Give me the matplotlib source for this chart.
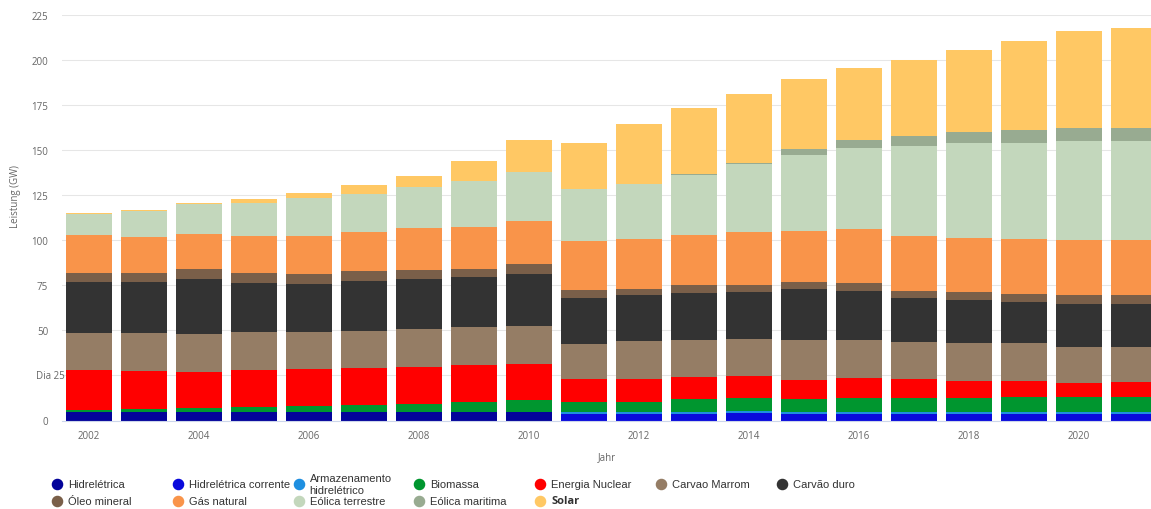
import numpy as np
import matplotlib.pyplot as plt
from matplotlib.lines import Line2D

plt.rcParams['font.family'] = ['Open Sans', 'DejaVu Sans']

anos = list(range(2002, 2022))

# GW (2002 ... 2021)
hidreletrica = [4.6, 4.6, 4.8, 4.8, 4.8, 4.8, 4.8, 4.8, 4.8,
                0, 0, 0, 0, 0, 0, 0, 0, 0, 0, 0]
hidreletrica_corrente = [0, 0, 0, 0, 0, 0, 0, 0, 0,
                         3.6, 3.6, 3.6, 3.9, 3.6, 3.6, 3.7, 3.5, 3.5, 3.5, 3.5]
armazenamento = [0, 0, 0, 0, 0, 0, 0, 0, 0,
                 0.9, 1.3, 1.3, 1.4, 1.3, 1.3, 1.2, 1.0, 1.0, 1.0, 1.0]
biomassa = [1.4, 1.8, 2.0, 2.9, 3.3, 3.8, 4.4, 5.7, 6.4, 6.0,
            5.6, 7.0, 7.0, 7.0, 7.6, 7.6, 8.0, 8.4, 8.4, 8.4]
nuclear = [22.1, 21.1, 20.1, 20.4, 20.5, 20.6, 20.3, 20.5, 20.4, 12.6,
           12.6, 12.1, 12.2, 10.8, 10.9, 10.6, 9.6, 9.2, 7.9, 8.3]
carvao_marrom = [20.3, 20.9, 21.0, 20.9, 20.4, 20.5, 21.3, 20.8, 21.1, 19.4,
                 20.9, 20.9, 20.8, 22.0, 21.3, 20.3, 21.0, 21.0, 20.2, 19.8]
carvao_duro = [28.4, 28.4, 30.7, 27.4, 26.8, 27.6, 27.6, 27.6, 28.5, 25.6,
               25.4, 25.9, 25.9, 28.4, 27.4, 24.5, 23.5, 22.6, 23.7, 23.7]
oleo_mineral = [5.3, 5.3, 5.6, 5.4, 5.4, 5.8, 5.2, 4.8, 5.9, 4.4,
                3.7, 4.5, 4.1, 4.0, 4.3, 4.2, 4.6, 4.4, 4.7, 4.7]
gas_natural = [20.6, 19.5, 19.4, 20.5, 21.1, 21.4, 23.3, 23.3, 23.7, 27.2,
               27.6, 27.9, 29.2, 28.3, 29.6, 30.0, 30.2, 30.7, 30.9, 30.9]
eolica_terrestre = [12.0, 14.6, 16.5, 18.5, 21.1, 21.3, 22.6, 25.2, 27.1, 28.7,
                    30.4, 33.2, 37.6, 41.7, 45.4, 50.0, 52.6, 53.2, 54.6, 54.6]
eolica_maritima = [0, 0, 0, 0, 0, 0, 0, 0, 0.1, 0.2,
                   0.3, 0.5, 1.0, 3.3, 4.0, 5.6, 6.1, 7.0, 7.6, 7.6]
solar = [0.2, 0.4, 0.7, 2.3, 3.0, 5.0, 6.0, 11.1, 17.8, 25.4,
         33.3, 36.5, 37.9, 39.3, 40.4, 42.2, 45.3, 49.4, 53.7, 55.2]

series = [
    ('Hidrelétrica', hidreletrica, '#03039a'),
    ('Hidrelétrica corrente', hidreletrica_corrente, '#0a0adc'),
    ('Armazenamento\nhidrelétrico', armazenamento, '#1e8fe0'),
    ('Biomassa', biomassa, '#00962f'),
    ('Energia Nuclear', nuclear, '#ff0000'),
    ('Carvao Marrom', carvao_marrom, '#957d65'),
    ('Carvão duro', carvao_duro, '#333333'),
    ('Óleo mineral', oleo_mineral, '#7a5f49'),
    ('Gás natural', gas_natural, '#f9944a'),
    ('Eólica terrestre', eolica_terrestre, '#c3d7bc'),
    ('Eólica maritima', eolica_maritima, '#98ab91'),
    ('Solar', solar, '#ffc864'),
]

W, H = 1151, 510
fig = plt.figure(figsize=(W / 100, H / 100), dpi=100)
ax = fig.add_axes([62 / W, 88.5 / H, 1089 / W, 405.5 / H])

base = np.zeros(len(anos))
for nome, valores, cor in series:
    ax.bar(anos, valores, width=0.836, bottom=base, color=cor, linewidth=0, zorder=2)
    base += np.array(valores)

ax.set_xlim(2001.51, 2021.31)
ax.set_ylim(0, 225)
yt = list(range(0, 226, 25))
ax.set_yticks(yt)
ax.set_yticklabels(['' if v == 25 else str(v) for v in yt])
ax.text(-0.0239, 25, 'Dia 25', transform=ax.get_yaxis_transform(),
        ha='left', va='center', fontsize=7, color='#666666')
ax.set_xticks(range(2002, 2021, 2))
ax.grid(axis='y', color='#e6e6e6', lw=0.75, zorder=0)
ax.set_axisbelow(True)
for s in ['top', 'right', 'left']:
    ax.spines[s].set_visible(False)
ax.spines['bottom'].set_color('#ccd6eb')
ax.spines['bottom'].set_linewidth(0.8)
ax.tick_params(length=0, colors='#666666', labelsize=7)
ax.tick_params(axis='y', pad=10)
ax.tick_params(axis='x', pad=7)
ax.set_xlabel('Jahr', fontsize=7, color='#666666', labelpad=7)
ax.set_ylabel('Leistung (GW)', fontsize=7, color='#666666')
ax.yaxis.set_label_coords(-0.0376, 0.556)

# legenda em duas linhas, como no original
for i, (nome, _, cor) in enumerate(series):
    col, lin = (i, 0) if i < 7 else (i - 7, 1)
    xm = 57 + col * 120.8
    ym = 485 + lin * 17
    fig.add_artist(Line2D([xm / W], [1 - ym / H], transform=fig.transFigure,
                          marker='o', markersize=7.3, color=cor, linestyle='none'))
    peso = 'bold' if nome == 'Solar' else 'normal'
    familia = ['Open Sans'] if nome == 'Solar' else ['Liberation Sans']
    fig.text((xm + 11) / W, 1 - ym / H, nome, ha='left', va='center',
             fontsize=8, color='#333333', weight=peso, family=familia,
             linespacing=1.2)

fig.savefig('out.png', dpi=100)
